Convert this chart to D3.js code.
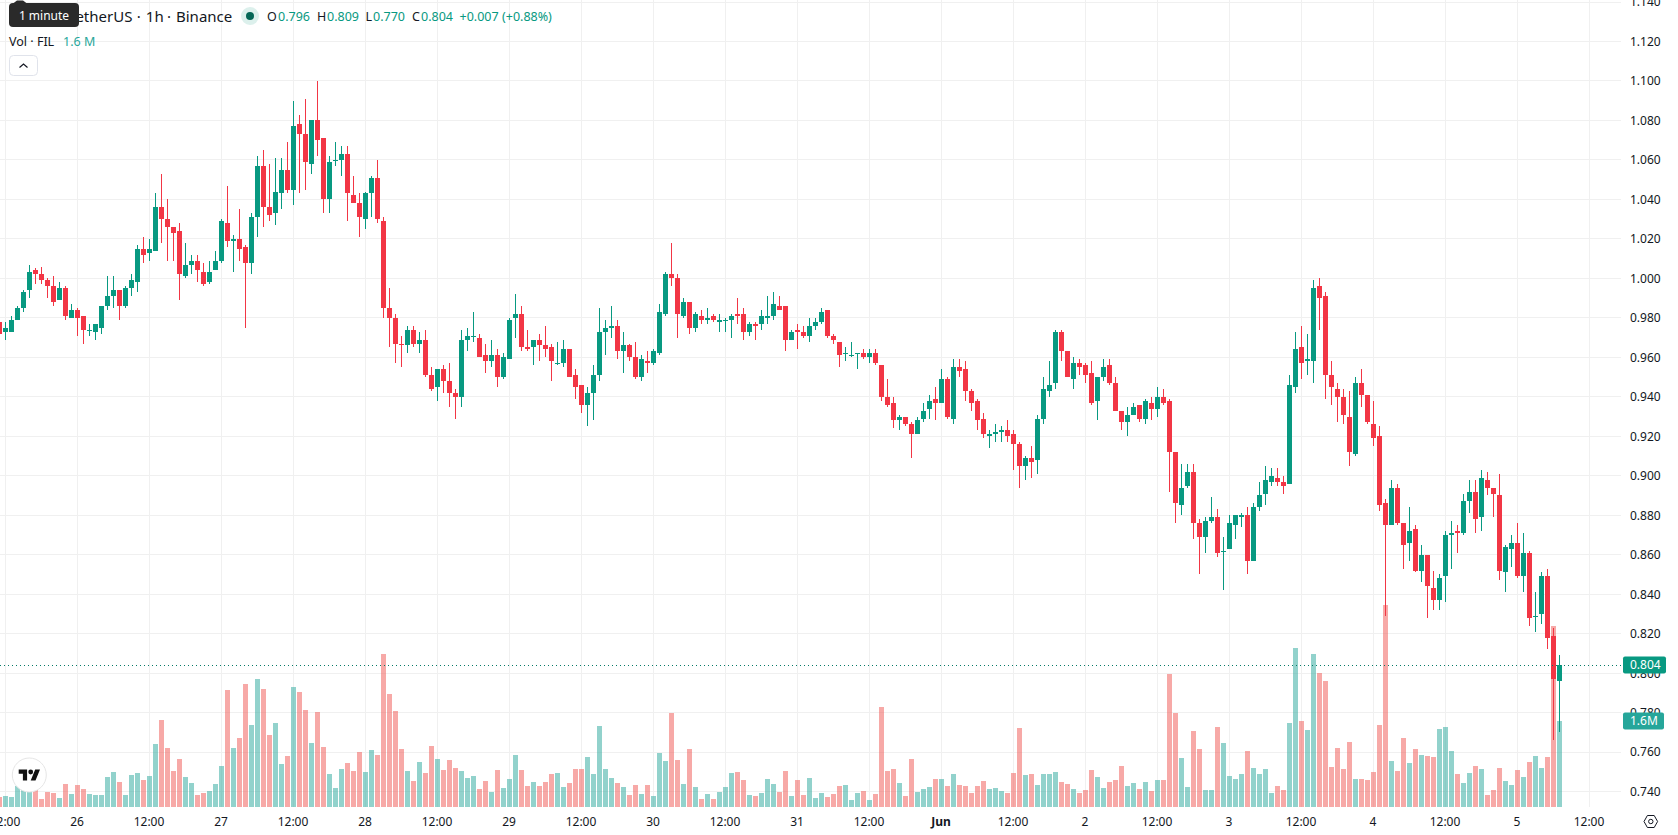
<!DOCTYPE html>
<html>
<head>
<meta charset="utf-8">
<title>FIL / USDT 1h</title>
<script src="https://d3js.org/d3.v7.min.js"></script>
<style>
  html, body { margin: 0; padding: 0; background: #fff; overflow: hidden; }
  svg { display: block; font-family: "Noto Sans", sans-serif; }
</style>
</head>
<body>
<svg id="chart" width="1678" height="835"></svg>
<script>
// Hourly FIL/USDT series, first bar 25 May 11:00 UTC
const opens = [
  .978,.973,.973,.979,.985,.994,1.004,1.002,.999,.996,.989,.995,.980,.984,.981,.974,.973,.975,.986,.991,.994,.986,.995,.998,1.015,1.013,
  1.014,1.036,1.030,1.026,1.024,1.001,1.007,1.009,1.003,.998,1.004,1.009,1.028,1.019,1.020,1.016,1.008,1.031,1.057,1.036,1.033,1.043,1.055,1.045,
  1.078,1.073,1.058,1.080,1.071,1.040,1.060,1.060,1.063,1.042,1.038,1.030,1.043,1.051,1.029,.985,.980,.967,.966,.974,.967,.969,.951,.945,.954,.948,.942,
  .940,.969,.971,.970,.961,.958,.961,.950,.959,.980,.982,.965,.965,.969,.966,.965,.957,.957,.964,.951,
  .946,.936,.942,.951,.973,.975,.976,.963,.966,.960,.950,.958,.957,.962,.982,1.002,1.000,.981,.988,.975,.981,.979,.981,.978,.979,.979,.982,.982,.973,.977,.977,.980,.981,.986,.986,.969,.974,.973,.971,.976,.978,.984,.971,.968,.962,.961,.962,
  .962,.960,.962,.956,.940,.937,.928,.930,.926,.921,.929,.934,.939,.937,.949,.929,.955,.954,.943,.938,.929,.920,.921,.922,.923,.921,.916,.905,.909,.908,.929,.943,.947,.973,.963,.949,.957,.956,.952,.938,.950,.956,.947,.933,.927,.931,.936,
  .929,.937,.934,.940,.938,.912,.885,.895,.902,.876,.869,.877,.879,.862,.863,.875,.879,.880,.857,.884,.891,.897,.899,.897,.896,.945,.965,.958,.958,.996,.991,.951,.944,.940,.930,.911,.947,.941,.926,.920,.886,.875,.894,
  .876,.866,.873,.852,.860,.843,.837,.849,.870,.872,.871,.887,.892,.879,.898,.894,.890,.851,.863,.866,.849,.861,.829,.830,.849,.819,.796
];
const highs = [
  .978,.978,.981,.986,.994,1.007,1.005,1.006,1.000,1.001,.998,.996,.987,.985,.981,.977,.977,.986,1.001,1.001,.994,.996,1.002,1.017,1.021,1.020,
  1.043,1.053,1.040,1.026,1.028,1.018,1.012,1.012,1.008,1.009,1.014,1.030,1.047,1.022,1.035,1.017,1.033,1.062,1.065,1.058,1.061,1.061,1.069,1.090,
  1.083,1.091,1.080,1.100,1.071,1.062,1.069,1.067,1.067,1.052,1.043,1.044,1.052,1.060,1.031,.995,.982,.971,.976,.976,.973,.974,.955,.954,.956,.957,.944,
  .974,.975,.983,.972,.967,.969,.964,.962,.980,.992,.986,.974,.969,.972,.976,.967,.968,.969,.964,.954,
  .946,.945,.956,.985,.979,.986,.979,.973,.967,.968,.961,.963,.964,.987,1.003,1.018,1.002,.990,.988,.983,.984,.985,.982,.982,.980,.982,.990,.985,.978,.978,.984,.991,.993,.991,.986,.974,.977,.976,.980,.980,.985,.984,.972,.968,.965,.968,.962,
  .964,.964,.964,.956,.949,.940,.931,.930,.927,.930,.937,.941,.945,.954,.950,.959,.959,.958,.944,.939,.932,.923,.926,.925,.928,.923,.917,.910,.915,.931,.950,.958,.974,.974,.963,.960,.959,.957,.958,.950,.959,.959,.950,.933,.935,.937,.936,
  .939,.940,.945,.944,.939,.912,.906,.906,.906,.878,.879,.889,.883,.869,.880,.880,.881,.884,.886,.897,.905,.904,.904,.900,.951,.973,.976,.972,.999,1.000,.993,.958,.947,.944,.943,.950,.954,.941,.938,.925,.888,.898,.896,
  .876,.884,.875,.865,.860,.852,.850,.872,.877,.875,.891,.898,.898,.903,.902,.894,.901,.865,.870,.876,.871,.862,.841,.851,.853,.823,.809
];
const lows = [
  .971,.969,.973,.979,.983,.990,.997,.997,.990,.986,.989,.979,.980,.971,.967,.971,.969,.972,.984,.985,.979,.985,.991,.993,1.008,1.009,
  1.014,1.018,1.009,1.009,.989,1.000,1.002,.998,.996,.997,1.004,1.008,1.016,1.003,1.009,.975,1.002,1.021,1.026,1.029,1.027,1.035,1.043,1.037,
  1.043,1.045,1.053,1.062,1.033,1.033,1.057,1.052,1.029,1.038,1.021,1.025,1.031,1.028,.980,.965,.957,.955,.962,.965,.962,.950,.943,.938,.942,.935,.929,
  .935,.963,.968,.960,.952,.955,.945,.949,.959,.970,.963,.963,.956,.958,.960,.948,.956,.955,.950,.939,
  .932,.925,.928,.948,.961,.970,.959,.952,.958,.949,.948,.952,.956,.961,.981,.996,.970,.980,.972,.973,.977,.977,.978,.973,.973,.970,.977,.969,.971,.969,.974,.977,.979,.984,.963,.969,.964,.970,.968,.974,.977,.970,.967,.955,.958,.960,.954,
  .959,.957,.956,.938,.935,.924,.923,.925,.909,.921,.927,.929,.928,.937,.929,.926,.950,.938,.933,.923,.919,.914,.917,.917,.917,.903,.894,.898,.899,.901,.926,.940,.944,.958,.950,.944,.951,.947,.936,.928,.948,.946,.933,.923,.920,.931,.927,
  .926,.928,.930,.936,.892,.876,.880,.894,.868,.850,.861,.876,.859,.842,.863,.868,.874,.850,.857,.882,.885,.895,.895,.891,.896,.942,.949,.951,.947,.974,.939,.936,.927,.926,.905,.910,.935,.926,.915,.882,.829,.875,.875,
  .853,.857,.851,.846,.828,.832,.832,.836,.853,.861,.870,.881,.871,.872,.890,.879,.847,.841,.854,.848,.841,.824,.821,.825,.812,.766,.770
];
const closes = [
  .972,.975,.979,.985,.993,1.003,1.002,.999,.996,.988,.995,.981,.984,.980,.974,.974,.977,.986,.991,.994,.986,.995,.999,1.015,1.012,1.015,
  1.036,1.030,1.026,1.023,1.002,1.007,1.009,1.004,.997,1.003,1.009,1.029,1.019,1.020,1.015,1.008,1.031,1.057,1.036,1.032,1.044,1.055,1.045,1.077,
  1.073,1.059,1.080,1.070,1.040,1.059,1.060,1.063,1.043,1.038,1.031,1.043,1.051,1.030,.985,.980,.967,.966,.974,.967,.969,.951,.944,.954,.948,.942,.940,
  .969,.971,.971,.960,.958,.961,.950,.960,.979,.982,.965,.964,.969,.966,.964,.958,.957,.964,.950,.945,
  .936,.942,.951,.973,.975,.976,.963,.966,.960,.950,.959,.957,.963,.983,1.002,1.000,.982,.988,.975,.982,.979,.980,.979,.979,.979,.981,.981,.973,.977,.976,.981,.981,.987,.984,.969,.973,.973,.971,.976,.978,.983,.971,.969,.961,.962,.961,.962,
  .960,.962,.957,.940,.936,.928,.930,.926,.921,.928,.933,.938,.937,.949,.930,.955,.953,.943,.937,.928,.921,.921,.922,.923,.920,.916,.905,.909,.907,.929,.944,.946,.973,.963,.950,.957,.955,.951,.937,.950,.955,.947,.933,.927,.931,.935,.929,
  .938,.934,.940,.937,.912,.886,.894,.902,.876,.869,.877,.879,.861,.862,.876,.880,.880,.857,.884,.890,.898,.900,.897,.895,.946,.964,.957,.959,.995,.990,.951,.945,.940,.931,.912,.947,.941,.927,.919,.885,.875,.894,.876,
  .865,.872,.852,.860,.844,.837,.848,.870,.871,.871,.887,.892,.878,.899,.894,.891,.852,.864,.866,.849,.861,.828,.829,.849,.818,.797,.804
];
// Traded volume per bar, millions of FIL
const volumes = [
  .19,.20,.19,.39,.35,.29,.32,.15,.28,.26,.17,.43,.24,.41,.33,.24,.22,.22,.56,.65,.47,.22,.60,.63,.50,.58,
  1.17,1.62,1.10,.67,.89,.56,.45,.22,.26,.30,.43,.76,2.18,1.10,1.28,2.29,1.53,2.38,2.20,1.34,1.56,.80,.95,2.23,
  2.14,1.80,1.19,1.77,1.12,.61,.35,.71,.82,.67,1.02,.65,1.06,.97,2.85,2.10,1.79,1.08,.67,.48,.84,.63,1.13,.89,.69,.87,.73,
  .67,.54,.58,.33,.48,.28,.69,.35,.52,.97,.69,.39,.47,.39,.47,.61,.63,.37,.45,.71,
  .71,.93,.61,1.51,.71,.54,.45,.37,.22,.41,.24,.41,.20,1.00,.86,1.75,.87,.43,1.08,.37,.15,.24,.15,.28,.37,.63,.65,.50,.22,.20,.26,.52,.43,.28,.67,.20,.50,.22,.54,.17,.26,.19,.24,.39,.41,.13,.26,
  .30,.13,.24,1.86,.67,.71,.45,.20,.89,.28,.33,.37,.52,.52,.39,.61,.41,.39,.26,.39,.48,.33,.35,.30,.26,.63,1.47,.60,.61,.41,.61,.61,.65,.47,.43,.33,.26,.32,.69,.56,.35,.47,.50,.76,.39,.45,.33,
  .47,.30,.50,.50,2.47,1.75,.91,.37,1.41,1.08,.32,.32,1.49,1.19,.58,.52,.61,1.04,.73,.61,.71,.26,.39,.32,1.56,2.96,1.60,1.43,2.85,2.49,2.34,.74,1.10,.71,1.21,.52,.52,.50,.65,1.53,3.76,.86,.67,
  1.28,.82,1.08,.97,.95,.93,1.45,1.49,1.04,.61,.45,.63,.76,.71,.22,.32,.73,.48,.41,.69,.56,.84,.95,.73,.93,3.37,1.60
];
const priceTicks = [1.14,1.12,1.10,1.08,1.06,1.04,1.02,1.00,.98,.96,.94,.92,.90,.88,.86,.84,.82,.80,.78,.76,.74];
const timeLabels = ["12:00","26","12:00","27","12:00","28","12:00","29","12:00","30","12:00","31","12:00","Jun","12:00","2","12:00","3","12:00","4","12:00","5","12:00"];
const lastClose = 0.804;
const lastVolume = 1.6;

const HOUR = 3600000;
const firstBar = Date.UTC(2024, 4, 25, 11);
const firstTick = Date.UTC(2024, 4, 25, 12);
const bars = opens.map((o, i) => ({
  t: new Date(firstBar + i * HOUR), o, h: highs[i], l: lows[i], c: closes[i], v: volumes[i]
}));

const UP = "#089981", DOWN = "#F23645", GRID = "#f0f0f0", INK = "#131722";
const plotRight = 1621, plotBottom = 807;

const x = d3.scaleUtc()
  .domain([new Date(firstTick), new Date(firstTick + 264 * HOUR)])
  .range([5.5, 1589.5]);
const y = d3.scaleLinear().domain([0.74, 1.14]).range([791.6, 2]);
const yVol = d3.scaleLinear().domain([0, 4]).range([plotBottom, plotBottom - 215]);
const snap = v => Math.floor(v) + 0.5;

const svg = d3.select("#chart");
svg.append("rect").attr("width", 1678).attr("height", 835).attr("fill", "#fff");

const timeTicks = timeLabels.map((_, i) => new Date(firstTick + i * 12 * HOUR));

// Grid
const grid = svg.append("g").attr("shape-rendering", "crispEdges").attr("stroke", GRID);
grid.selectAll(".gv").data(timeTicks).join("line").attr("class", "gv")
  .attr("x1", d => x(d)).attr("x2", d => x(d)).attr("y1", 0).attr("y2", plotBottom);
grid.selectAll(".gh").data(priceTicks).join("line").attr("class", "gh")
  .attr("x1", 0).attr("x2", plotRight).attr("y1", d => snap(y(d))).attr("y2", d => snap(y(d)));

// Volume columns
svg.append("g").attr("shape-rendering", "crispEdges").selectAll("rect").data(bars).join("rect")
  .attr("x", d => x(d.t) - 2.5).attr("width", 5)
  .attr("y", d => Math.round(yVol(d.v))).attr("height", d => plotBottom - Math.round(yVol(d.v)))
  .attr("fill", d => d.c >= d.o ? "#26a69a" : "#ef5350").attr("fill-opacity", 0.5);

// Candles
const candles = svg.append("g").attr("shape-rendering", "crispEdges");
candles.selectAll(".wick").data(bars).join("rect").attr("class", "wick")
  .attr("x", d => x(d.t) - 0.5).attr("width", 1)
  .attr("y", d => Math.round(y(d.h))).attr("height", d => Math.max(1, Math.round(y(d.l)) - Math.round(y(d.h))))
  .attr("fill", d => d.c >= d.o ? UP : DOWN);
candles.selectAll(".body").data(bars).join("rect").attr("class", "body")
  .attr("x", d => x(d.t) - 2.5).attr("width", 5)
  .attr("y", d => Math.round(y(Math.max(d.o, d.c))))
  .attr("height", d => Math.max(1, Math.round(y(Math.min(d.o, d.c))) - Math.round(y(Math.max(d.o, d.c)))))
  .attr("fill", d => d.c >= d.o ? UP : DOWN);

// Last price line
svg.append("line").attr("x1", 0).attr("x2", plotRight)
  .attr("y1", snap(y(lastClose))).attr("y2", snap(y(lastClose)))
  .attr("stroke", "#067a67").attr("stroke-dasharray", "1 3").attr("shape-rendering", "crispEdges");

// Price axis
const priceAxis = d3.axisRight(y).tickValues(priceTicks).tickFormat(d3.format(".3f")).tickSize(0).tickPadding(0);
const gPrice = svg.append("g").attr("transform", "translate(1630,0)").call(priceAxis);
gPrice.select(".domain").remove();
gPrice.selectAll("text").attr("fill", INK).attr("font-size", 12).attr("font-family", '"Noto Sans", sans-serif');

// Time axis
const timeAxis = d3.axisBottom(x).tickValues(timeTicks).tickFormat((d, i) => timeLabels[i]).tickSize(0).tickPadding(0);
const gTime = svg.append("g").attr("transform", "translate(-1,817)").call(timeAxis);
gTime.select(".domain").remove();
gTime.selectAll("text").attr("fill", INK).attr("font-size", 12).attr("font-family", '"Noto Sans", sans-serif')
  .attr("font-weight", (d, i) => timeLabels[i] === "Jun" ? 700 : 400);

// Value tags on the price axis
const tag = (cy, w, fill, label) => {
  svg.append("rect").attr("x", 1623).attr("y", cy - 8.5).attr("width", w).attr("height", 17).attr("rx", 2).attr("fill", fill);
  svg.append("text").attr("x", 1630).attr("y", cy).attr("dy", "0.35em").attr("font-size", 12).attr("fill", "#fff").text(label);
};
tag(Math.round(y(lastClose)), 43, UP, d3.format(".3f")(lastClose));
tag(Math.round(yVol(lastVolume)), 41, "#26a69a", lastVolume + "M");

// Settings glyph
svg.append("path").attr("d", "M1644 821.5l3.4-6h6.8l3.4 6-3.4 6h-6.8z").attr("fill", "none").attr("stroke", INK);
svg.append("circle").attr("cx", 1650.8).attr("cy", 821.5).attr("r", 2.2).attr("fill", "none").attr("stroke", INK);

// Legend
const legend = svg.append("g").attr("fill", INK);
const titleSize = 15, titleBase = 21.5;
legend.append("text").attr("x", 132.4).attr("y", titleBase).attr("text-anchor", "end").attr("font-size", titleSize).text("FIL / TetherUS");
legend.append("text").attr("x", 138.7).attr("y", titleBase).attr("text-anchor", "middle").attr("font-size", titleSize).text("·");
legend.append("text").attr("x", 145.8).attr("y", titleBase).attr("font-size", titleSize).text("1h");
legend.append("text").attr("x", 169).attr("y", titleBase).attr("text-anchor", "middle").attr("font-size", titleSize).text("·");
legend.append("text").attr("x", 176).attr("y", titleBase).attr("font-size", titleSize).text("Binance");
legend.append("circle").attr("cx", 250).attr("cy", 16).attr("r", 9).attr("fill", "#dcf0ec");
legend.append("circle").attr("cx", 250).attr("cy", 16).attr("r", 4).attr("fill", "#056656");

const ohlcLetters = ["O", "H", "L", "C"];
const ohlcValues = [opens[opens.length - 1], highs[highs.length - 1], lows[lows.length - 1], closes[closes.length - 1]];
const letterX = [267, 317, 365.5, 412];
const valueX = [278, 327, 373, 421];
ohlcLetters.forEach((s, i) => {
  legend.append("text").attr("x", letterX[i]).attr("y", 21).attr("font-size", 12.5).text(s);
  legend.append("text").attr("x", valueX[i]).attr("y", 21).attr("font-size", 12.5).attr("fill", UP)
    .text(d3.format(".3f")(ohlcValues[i]));
});
legend.append("text").attr("x", 459.5).attr("y", 21).attr("font-size", 12.5).attr("fill", UP).text("+0.007");
legend.append("text").attr("x", 502).attr("y", 21).attr("font-size", 12.5).attr("fill", UP).text("(+0.88%)");
legend.append("text").attr("x", 9).attr("y", 45.5).attr("font-size", 12.5).text("Vol · FIL");
legend.append("text").attr("x", 63).attr("y", 45.5).attr("font-size", 12.5).attr("fill", "#26a69a").text("1.6 M");

// Collapse button
svg.append("rect").attr("x", 9.5).attr("y", 55.5).attr("width", 28).attr("height", 20).attr("rx", 4)
  .attr("fill", "#fff").attr("stroke", "#e0e3eb");
svg.append("path").attr("d", "M19.5 67.5l4-3.5 4 3.5").attr("fill", "none").attr("stroke", INK).attr("stroke-width", 1.2);

// Tooltip over the legend title
svg.append("path").attr("d", "M13 3.5l4-3h6l4 3z").attr("fill", "#2a2a2a");
svg.append("rect").attr("x", 9).attr("y", 3).attr("width", 70).attr("height", 24).attr("rx", 4).attr("fill", "#2a2a2a");
svg.append("text").attr("x", 44).attr("y", 20).attr("text-anchor", "middle").attr("font-size", 12).attr("fill", "#fff").text("1 minute");

// Attribution badge
const badge = svg.append("g").attr("transform", "translate(29.3,775)");
badge.append("circle").attr("r", 17).attr("fill", "#fff").attr("stroke", "#e6e6e6").attr("stroke-width", 1);
const mark = badge.append("g").attr("transform", "translate(-10.6,-7.8) scale(0.6)").attr("fill", "#111");
mark.append("path").attr("d", "M14 22H7V11H0V4h14v18zM28 22h-8l7.5-18h8L28 22z");
mark.append("circle").attr("cx", 20).attr("cy", 8).attr("r", 4);
</script>
</body>
</html>
